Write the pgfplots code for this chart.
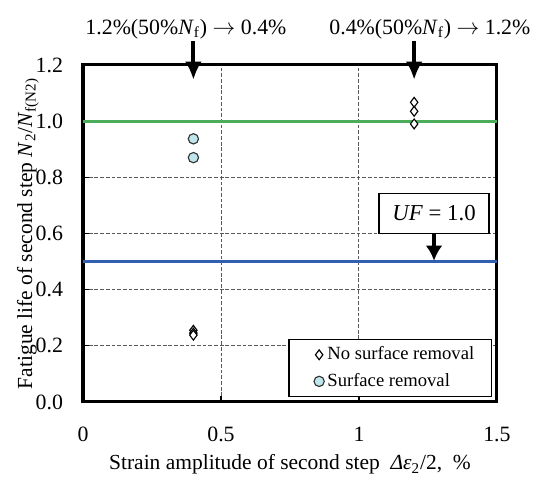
\documentclass[border=0pt]{standalone}
\usepackage{fontspec}
\setmainfont{Liberation Serif}
\usepackage{pgfplots}
\usetikzlibrary{arrows.meta}
\pgfplotsset{compat=1.18}
\definecolor{lgreen}{RGB}{75,172,90}
\definecolor{lblue}{RGB}{50,95,175}
\definecolor{lcyan}{RGB}{190,230,236}
\begin{document}
\begin{tikzpicture}[font=\fontsize{11.3}{13}\selectfont]
\begin{axis}[
  scale only axis, width=217.9pt, height=177.4pt,
  xmin=0, xmax=1.5, ymin=0, ymax=1.2,
  xtick={0,0.5,1,1.5}, xticklabels={0,0.5,1,1.5},
  ytick={0,0.2,...,1.2},
  yticklabel style={/pgf/number format/fixed, /pgf/number format/fixed zerofill, /pgf/number format/precision=1, xshift=-7pt, font=\fontsize{11.5}{13}\selectfont},
  xticklabel style={yshift=-9.5pt, font=\fontsize{11.5}{13}\selectfont},
  /pgf/number format/assume math mode=true,
  tick align=inside, xtick pos=bottom, ytick pos=left,
  major tick length=3pt,
  grid=major, major grid style={black!65, line width=0.5pt, dash pattern=on 2pt off 1pt},
  axis line style={line width=1.6pt},
  tick style={black, line width=0.6pt},
  xlabel={Strain amplitude of second step\ \ \textit{Δε}\textsubscript{2}/2,\ \ \%},
  ylabel={Fatigue life of second step \textit{N}\textsubscript{2}/\textit{N}\textsubscript{f(N2)}},
  xlabel style={at={(axis description cs:0.5,0)}, anchor=center, yshift=-33pt},
  ylabel style={at={(axis description cs:0,0.5)}, anchor=center, yshift=29pt},
  clip=false,
  legend style={at={(0.988,0.014)}, anchor=south east, draw=black, line width=0.7pt,
     font=\fontsize{9.8}{11}\selectfont, row sep=5pt, inner xsep=0pt, inner ysep=3.5pt,
     nodes={inner sep=0pt, text height=7pt, text depth=2pt}},
  legend cell align=left,
  legend image code/.code={\path (-15.6pt,0) (4pt,0); \draw[#1] plot coordinates {(0cm,0cm)};},
]
\addplot[lgreen, line width=1.5pt, forget plot] coordinates {(0,1.0) (1.5,1.0)};
\addplot[lblue, line width=1.2pt, forget plot] coordinates {(0,0.5) (1.5,0.5)};
\addplot[only marks, mark=diamond*, mark size=2.6pt, mark options={fill=white, draw=black, line width=0.6pt}]
  coordinates {(0.4,0.255) (0.4,0.245) (0.4,0.238) (1.2,1.067) (1.2,1.035) (1.2,0.99)};
\addlegendentry{No surface removal\rule{9pt}{0pt}}
\addplot[only marks, mark=*, mark size=2.7pt, mark options={fill=lcyan, draw=black!80, line width=0.6pt}]
  coordinates {(0.4,0.937) (0.4,0.87)};
\addlegendentry{Surface removal}
\node[draw=black, line width=0.7pt, fill=white, minimum width=58pt, minimum height=21pt, inner sep=0pt, anchor=south, font=\fontsize{12}{14}\selectfont] (uf) at (axis cs:1.272,0.598) {\textit{UF} = 1.0};
\draw[-{Latex[length=8pt,width=9pt]}, line width=2pt] (axis cs:1.272,0.598) -- (axis cs:1.272,0.503);
\node[anchor=base, font=\fontsize{11.5}{14}\selectfont] at (axis cs:0.373,1.31) {1.2\%(50\%\textit{N}\textsubscript{f}) $\rightarrow$ 0.4\%};
\node[anchor=base, font=\fontsize{11.5}{14}\selectfont] at (axis cs:1.257,1.31) {0.4\%(50\%\textit{N}\textsubscript{f}) $\rightarrow$ 1.2\%};
\draw[-{Latex[length=9.5pt,width=9pt]}, line width=2pt] (axis cs:0.4,1.285) -- (axis cs:0.4,1.148);
\draw[-{Latex[length=9.5pt,width=9pt]}, line width=2pt] (axis cs:1.2,1.285) -- (axis cs:1.2,1.148);
\path ([xshift=-43.7pt,yshift=34.2pt]rel axis cs:0,1) ([xshift=23.2pt,yshift=-40.5pt]rel axis cs:1,0);
\end{axis}
\end{tikzpicture}
\end{document}
